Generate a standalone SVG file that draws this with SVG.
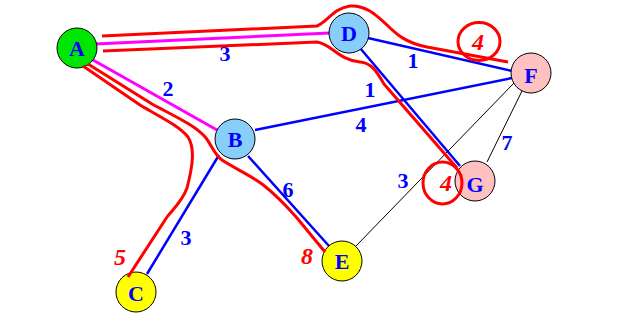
<svg xmlns="http://www.w3.org/2000/svg" width="635" height="329" viewBox="0 0 635 329">
<style>
.e{stroke:#0000ff;stroke-width:2.5;fill:none}
.m{stroke:#ff00ff;stroke-width:3;fill:none}
.t{stroke:#000;stroke-width:1;fill:none}
.r{stroke:#ff0000;stroke-width:3;fill:none;stroke-linejoin:round;stroke-linecap:butt}
.n{stroke:#000;stroke-width:1}
.nl{font-family:"Liberation Serif",serif;font-weight:bold;font-size:22px;fill:#0000ff;text-anchor:middle}
.w{font-family:"Liberation Serif",serif;font-weight:bold;font-size:22px;fill:#0000ff;text-anchor:middle}
.rw{font-family:"Liberation Serif",serif;font-style:italic;font-weight:bold;font-size:24px;fill:#ff0000;text-anchor:middle}
</style>
<rect width="635" height="329" fill="#fff"/>
<g id="connectors">
<line class="m" x1="95" y1="44" x2="330" y2="33"/>
<line class="m" x1="93" y1="60" x2="217" y2="130"/>
<line class="e" x1="368" y1="38" x2="512" y2="71"/>
<line class="e" x1="360" y1="48" x2="460" y2="166"/>
<line class="e" x1="255" y1="130" x2="512" y2="78"/>
<line class="e" x1="248" y1="156" x2="329" y2="246"/>
<line class="e" x1="219" y1="155" x2="147" y2="274"/>
<line class="t" x1="514" y1="83" x2="356" y2="246"/>
<line class="t" x1="522" y1="91" x2="487" y2="162"/>
</g>
<g id="weights">
<text class="w" x="225" y="61">3</text>
<text class="w" x="168" y="96">2</text>
<text class="w" x="413" y="68">1</text>
<text class="w" x="370" y="97">1</text>
<text class="w" x="361" y="132">4</text>
<text class="w" x="288" y="197">6</text>
<text class="w" x="186" y="245">3</text>
<text class="w" x="403" y="188">3</text>
<text class="w" x="507" y="150">7</text>
</g>
<g id="A"><circle class="n" cx="77" cy="48" r="20" fill="#00e600"/><text class="nl" x="77" y="56">A</text></g>
<g id="D"><circle class="n" cx="349" cy="33" r="20" fill="#87cefa"/><text class="nl" x="349" y="41">D</text></g>
<g id="F"><circle class="n" cx="531" cy="73" r="20" fill="#ffc0c0"/><text class="nl" x="531" y="83">F</text></g>
<g id="B"><circle class="n" cx="235" cy="139" r="20" fill="#87cefa"/><text class="nl" x="235" y="147">B</text></g>
<g id="G"><circle class="n" cx="475" cy="181" r="20" fill="#ffc0c0"/><text class="nl" x="475" y="192">G</text></g>
<g id="E"><circle class="n" cx="342" cy="261" r="20" fill="#ffff00"/><text class="nl" x="342" y="269">E</text></g>
<g id="C"><circle class="n" cx="136" cy="292" r="20" fill="#ffff00"/><text class="nl" x="136" y="301">C</text></g>
<g id="paths">
<path class="r" d="M102,36 L317,26 C327,22 334,8 350,6 C366,5 376,15 387,25 C396,34 406,43 427,47 L508,62"/>
<path class="r" d="M103,51 L317,42 C332,44 338,60 360,62 C372,63 377,72 384,84 L457,168"/>
<path class="r" d="M88,64 L152,104 C178,118 196,126 206,138 C212,146 214,154 222,160 C234,168 250,175 262,184 C275,194 290,210 297,218 L325,252"/>
<path class="r" d="M83,66 L140,105 C160,117 178,125 188,137 C195,148 193,165 187,188 C182,202 172,210 167,217 L128,277"/>
<ellipse class="r" cx="479" cy="41.5" rx="21" ry="19"/>
<ellipse class="r" cx="442.5" cy="183" rx="19.5" ry="21"/>
<text class="rw" x="478" y="50">4</text>
<text class="rw" x="446" y="191">4</text>
<text class="rw" x="120" y="265">5</text>
<text class="rw" x="307" y="264">8</text>
</g>
</svg>
